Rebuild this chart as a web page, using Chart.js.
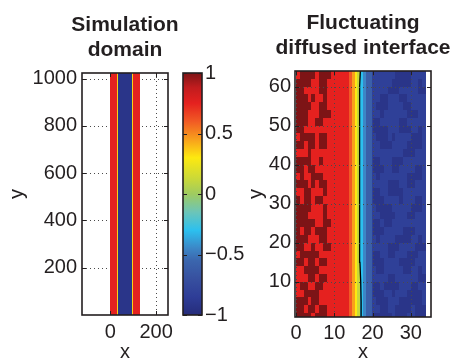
<!DOCTYPE html>
<html>
  <head>
    <title>Simulation domain / Fluctuating diffused interface</title>
    <script src="https://cdn.jsdelivr.net/npm/chart.js"></script>
    <style>
      body {
        margin: 0;
        background: #fff;
      }
      #wrap {
        position: relative;
        width: 454px;
        height: 360px;
      }
      canvas {
        position: absolute;
        top: 0;
      }
    </style>
  </head>
  <body>
    <div id="wrap">
      <canvas id="domainChart" width="190" height="360" style="left: 0"></canvas>
      <canvas id="barChart" width="90" height="360" style="left: 175px"></canvas>
      <canvas id="interfaceChart" width="214" height="360" style="left: 240px"></canvas>
    </div>

    <script>
      // ---- data ----
      // left panel: stripes in x, uniform along y
      const domainEdges = [0, 30, 34, 94, 98, 128];
      const domainValues = [0.75, 0.35, -0.92, 0.35, 0.75];
      const domainXTicks = [0, 200];
      const domainXLabels = ['0', '200'];
      const domainYTicks = [200, 400, 600, 800, 1000];
      const domainYLabels = ['200', '400', '600', '800', '1000'];

      // colorbar
      const cbTicks = [-1, -0.5, 0, 0.5, 1];
      const cbLabels = ['\u22121', '\u22120.5', '0', '0.5', '1'];

      // right panel: mean profile across the interface (band edges in x, value per band)
      const ifaceEdges = [0, 13.9, 14.7, 15.3, 15.9, 16.7, 17.5, 18.3, 19.8, 34];
      const ifaceValues = [0.75, 0.6, 0.45, 0.3, 0.12, -0.3, -0.45, -0.6, -0.83];

      // zero contour (black line)
      const contourY = [1, 5, 10, 15, 20, 25, 30, 35, 40, 45, 50, 55, 60, 64];
      const contourX = [17.2, 17.0, 16.9, 16.7, 16.6, 16.5, 16.5, 16.6, 16.7, 16.7, 16.6, 16.6, 16.7, 16.8];

      // fluctuations: rows from y=64 downwards, 2 units per row, 1 unit per char
      const darkRedX0 = 0;
      const darkRedValue = 1.0;
      const darkRedRows = [
        '.DDDD.DDD.',
        'DDDD..DD..',
        'DD....DD..',
        'DDD.D..D..',
        'DDDD..DD..',
        'DDD...DDD.',
        'DDD..DD...',
        'DD........',
        '.DDDD.DD..',
        'DD.DD.DD..',
        '...D......',
        'DDDD..D...',
        'DD.DD.....',
        '.D..DDD...',
        'DDD.D.DD..',
        '..DD...D..',
        'D.DD.DD...',
        'DDDD...D..',
        'DDD....D..',
        'DDDDD..DD.',
        'D.DD.DDD..',
        'DDD...DD..',
        'DD..D..DD.',
        '.DDDDD....',
        'DD.DD.DD..',
        '..DDDD....',
        '...DD.DD..',
        '.DD..DD...',
        '..DDDD....',
        'DDD.DD....',
        'DD.DD.DD..',
        'DDDD.DDD..',
      ];
      const darkBlueX0 = 20;
      const darkBlueValue = -0.92;
      const darkBlueRows = [
        '......bbbb....',
        '.....bbbbb..b.',
        '....bbb.....bb',
        '..bb...bb.....',
        '.bbb....bb....',
        '..b......bbb..',
        'bb.....bb.....',
        'bbbb...bbb..b.',
        '.bbb.b....bbb.',
        '..bbb....bbbb.',
        '........bbb...',
        'bb...bbb......',
        'bbb..bb....bb.',
        '.b.......bbbb.',
        '....bbb..bb...',
        'bb..bbbb......',
        'bbb....b...bb.',
        '.bbbb.....bbb.',
        '..bbbb...bb...',
        'bb.bb.........',
        'bbb.....bbb...',
        '.b....bbbb..b.',
        '....bbb....bbb',
        'bb..bb...bbb..',
        'bbb....bbbb...',
        '.bb.....bb..b.',
        '....bb......bb',
        'bb.bbbb...bb..',
        'bbb..b...bbbb.',
        '.bbb...bbbbbb.',
        '..bb..bbbb.bbb',
        'bbbbb.bbb..bbb',
      ];
      const ifaceXTicks = [0, 10, 20, 30];
      const ifaceXLabels = ['0', '10', '20', '30'];
      const ifaceYTicks = [10, 20, 30, 40, 50, 60];
      const ifaceYLabels = ['10', '20', '30', '40', '50', '60'];

      // ---- styles ----
      const family = "'Liberation Sans', Arial, Helvetica, sans-serif";
      const ink = '#231f20';
      const cmapStops = [
        [-1.0, '#262c7a'],
        [-0.85, '#2e3d97'],
        [-0.7, '#37509f'],
        [-0.55, '#3b66ae'],
        [-0.45, '#3c86c6'],
        [-0.3, '#2cc0ef'],
        [-0.15, '#6cc5b8'],
        [0.0, '#9fcb60'],
        [0.12, '#c8d83a'],
        [0.3, '#fde910'],
        [0.45, '#f8a01c'],
        [0.6, '#f15a24'],
        [0.75, '#e5211f'],
        [0.88, '#c11c1e'],
        [1.0, '#7d1416'],
      ];

      function hexRgb(c) {
        return [1, 3, 5].map((i) => parseInt(c.slice(i, i + 2), 16));
      }

      function cmap(v) {
        const s = cmapStops;
        if (v <= s[0][0]) return s[0][1];
        for (let i = 1; i < s.length; i++) {
          if (v <= s[i][0]) {
            const t = (v - s[i - 1][0]) / (s[i][0] - s[i - 1][0]);
            const a = hexRgb(s[i - 1][1]);
            const b = hexRgb(s[i][1]);
            return 'rgb(' + a.map((c, k) => Math.round(c + (b[k] - c) * t)).join(',') + ')';
          }
        }
        return s[s.length - 1][1];
      }

      function drawGrid(chart) {
        const { ctx, chartArea: a } = chart;
        const x = chart.scales.x;
        const y = chart.scales.y;
        ctx.save();
        ctx.strokeStyle = '#4a4a4a';
        ctx.lineWidth = 1;
        ctx.setLineDash([1, 3]);
        ctx.beginPath();
        x.ticks.forEach((t) => {
          const p = Math.round(x.getPixelForValue(t.value)) + 0.5;
          if (p <= a.left + 1 || p >= a.right - 1) return;
          ctx.moveTo(p, a.top);
          ctx.lineTo(p, a.bottom);
        });
        y.ticks.forEach((t) => {
          const p = Math.round(y.getPixelForValue(t.value)) + 0.5;
          if (p <= a.top + 1 || p >= a.bottom - 1) return;
          ctx.moveTo(a.left, p);
          ctx.lineTo(a.right, p);
        });
        ctx.stroke();
        ctx.restore();
      }

      // draws field cells, grid, box, inward ticks and two-line title, all through the chart scales
      const matlabAxes = {
        id: 'matlabAxes',
        beforeDatasetsDraw(chart, args, o) {
          const { ctx, chartArea: a } = chart;
          const x = chart.scales.x;
          const y = chart.scales.y;
          ctx.save();
          ctx.beginPath();
          ctx.rect(a.left, a.top, a.right - a.left, a.bottom - a.top);
          ctx.clip();
          if (o.grid === 'under') drawGrid(chart);
          (o.bands || []).forEach((b) => {
            for (let i = 0; i < b.values.length; i++) {
              const x0 = Math.round(x.getPixelForValue(b.edges[i]));
              const x1 = Math.round(x.getPixelForValue(b.edges[i + 1]));
              ctx.fillStyle = cmap(b.values[i]);
              ctx.fillRect(x0, a.top, x1 - x0, a.bottom - a.top);
            }
          });
          (o.masks || []).forEach((m) => {
            ctx.fillStyle = cmap(m.value);
            m.rows.forEach((row, r) => {
              const yTop = Math.round(y.getPixelForValue(m.top - r * m.dy));
              const yBot = Math.round(y.getPixelForValue(m.top - (r + 1) * m.dy));
              let c = 0;
              while (c < row.length) {
                if (row[c] === '.') {
                  c++;
                  continue;
                }
                let e = c;
                while (e < row.length && row[e] !== '.') e++;
                const x0 = Math.round(x.getPixelForValue(m.x0 + c * m.dx));
                const x1 = Math.round(x.getPixelForValue(m.x0 + e * m.dx));
                ctx.fillRect(x0, yTop, x1 - x0, yBot - yTop);
                c = e;
              }
            });
          });
          ctx.restore();
        },
        afterDatasetsDraw(chart, args, o) {
          const { ctx, chartArea: a } = chart;
          if (o.grid === 'over') drawGrid(chart);
          ctx.save();
          ctx.strokeStyle = ink;
          ctx.lineWidth = 1;
          ctx.beginPath();
          const L = 4;
          if (o.xMarks) {
            const x = chart.scales.x;
            x.ticks.forEach((t) => {
              const p = Math.round(x.getPixelForValue(t.value)) + 0.5;
              ctx.moveTo(p, a.bottom);
              ctx.lineTo(p, a.bottom - L);
              ctx.moveTo(p, a.top);
              ctx.lineTo(p, a.top + L);
            });
          }
          if (o.yMarks) {
            const y = chart.scales.y;
            y.ticks.forEach((t) => {
              const p = Math.round(y.getPixelForValue(t.value)) + 0.5;
              ctx.moveTo(a.left, p);
              ctx.lineTo(a.left + L, p);
              ctx.moveTo(a.right, p);
              ctx.lineTo(a.right - L, p);
            });
          }
          ctx.stroke();
          ctx.lineWidth = 1.6;
          ctx.strokeRect(a.left, a.top, a.right - a.left, a.bottom - a.top);
          if (o.title) {
            ctx.fillStyle = ink;
            ctx.font = 'bold 21px ' + family;
            ctx.textAlign = 'center';
            ctx.textBaseline = 'alphabetic';
            const cx = (a.left + a.right) / 2;
            ctx.fillText(o.title[0], cx, a.top - 42);
            ctx.fillText(o.title[1], cx, a.top - 17);
          }
          ctx.restore();
        },
      };

      function linearAxis(cfg) {
        return {
          type: 'linear',
          position: cfg.position,
          min: cfg.min,
          max: cfg.max,
          grid: { display: false, drawTicks: false },
          border: { display: false },
          afterBuildTicks: (s) => {
            s.ticks = cfg.ticks.map((v) => ({ value: v }));
          },
          afterFit: (s) => {
            if (cfg.height !== undefined) s.height = cfg.height;
            if (cfg.width !== undefined) s.width = cfg.width;
            // labels may overhang the plot box, as in the original
            s.paddingLeft = 0;
            s.paddingRight = 0;
            s.paddingTop = 0;
            s.paddingBottom = 0;
          },
          ticks: {
            color: ink,
            font: { family: family, size: 20 },
            padding: cfg.pad,
            maxRotation: 0,
            autoSkip: false,
            callback: (v, i) => cfg.labels[i],
          },
          title: {
            display: !!cfg.title,
            text: cfg.title,
            color: ink,
            font: { family: family, size: 20, lineHeight: cfg.titleLH },
            padding: cfg.titlePad,
          },
        };
      }

      Chart.defaults.animation = false;

      // left: simulation domain
      new Chart(document.getElementById('domainChart'), {
        type: 'scatter',
        data: { datasets: [] },
        plugins: [matlabAxes],
        options: {
          responsive: false,
          devicePixelRatio: 1,
          layout: { padding: { top: 73, right: 22, bottom: 0, left: 0 } },
          plugins: {
            legend: { display: false },
            tooltip: { enabled: false },
            matlabAxes: {
              title: ['Simulation', 'domain'],
              grid: 'under',
              xMarks: true,
              yMarks: true,
              bands: [{ edges: domainEdges, values: domainValues }],
            },
          },
          scales: {
            x: linearAxis({
              position: 'bottom', min: -124, max: 252, ticks: domainXTicks, labels: domainXLabels,
              height: 45, pad: 5, title: 'x', titleLH: 0.8, titlePad: 0,
            }),
            y: linearAxis({
              position: 'left', min: 0, max: 1024, ticks: domainYTicks, labels: domainYLabels,
              width: 82, pad: 5, title: 'y', titleLH: 1, titlePad: { top: 7, bottom: 0 },
            }),
          },
        },
      });

      // colorbar
      new Chart(document.getElementById('barChart'), {
        type: 'bar',
        data: {
          labels: ['c'],
          datasets: [
            {
              data: [[cbTicks[0], cbTicks[cbTicks.length - 1]]],
              borderWidth: 0,
              barPercentage: 1,
              categoryPercentage: 1,
              backgroundColor: (c) => {
                const chart = c.chart;
                if (!chart.chartArea) return cmap(0);
                const y = chart.scales.y;
                const g = chart.ctx.createLinearGradient(0, y.getPixelForValue(-1), 0, y.getPixelForValue(1));
                cmapStops.forEach(([v, col]) => g.addColorStop((v + 1) / 2, col));
                return g;
              },
            },
          ],
        },
        plugins: [matlabAxes],
        options: {
          responsive: false,
          devicePixelRatio: 1,
          layout: { padding: { top: 73, right: 0, bottom: 45, left: 8 } },
          plugins: {
            legend: { display: false },
            tooltip: { enabled: false },
            matlabAxes: { xMarks: false, yMarks: true },
          },
          scales: {
            x: { display: false },
            y: linearAxis({
              position: 'right', min: -1, max: 1, ticks: cbTicks, labels: cbLabels,
              width: 63, pad: 3,
            }),
          },
        },
      });

      // right: fluctuating diffused interface
      new Chart(document.getElementById('interfaceChart'), {
        type: 'scatter',
        data: {
          datasets: [
            {
              data: contourY.map((yv, i) => ({ x: contourX[i], y: yv })),
              showLine: true,
              borderColor: '#000000',
              borderWidth: 1.3,
              pointRadius: 0,
              tension: 0,
            },
          ],
        },
        plugins: [matlabAxes],
        options: {
          responsive: false,
          devicePixelRatio: 1,
          layout: { padding: { top: 71, right: 23, bottom: 0, left: 0 } },
          plugins: {
            legend: { display: false },
            tooltip: { enabled: false },
            matlabAxes: {
              title: ['Fluctuating', 'diffused interface'],
              grid: 'over',
              xMarks: true,
              yMarks: true,
              bands: [{ edges: ifaceEdges, values: ifaceValues }],
              masks: [
                { rows: darkRedRows, value: darkRedValue, x0: darkRedX0, dx: 1, top: 64, dy: 2 },
                { rows: darkBlueRows, value: darkBlueValue, x0: darkBlueX0, dx: 1, top: 64, dy: 2 },
              ],
            },
          },
          scales: {
            x: linearAxis({
              position: 'bottom', min: -0.3, max: 35.3, ticks: ifaceXTicks, labels: ifaceXLabels,
              height: 43, pad: 4, title: 'x', titleLH: 0.8, titlePad: 0,
            }),
            y: linearAxis({
              position: 'left', min: 1, max: 64, ticks: ifaceYTicks, labels: ifaceYLabels,
              width: 55, pad: 4, title: 'y', titleLH: 1, titlePad: { top: 6, bottom: 0 },
            }),
          },
        },
      });
    </script>
  </body>
</html>
